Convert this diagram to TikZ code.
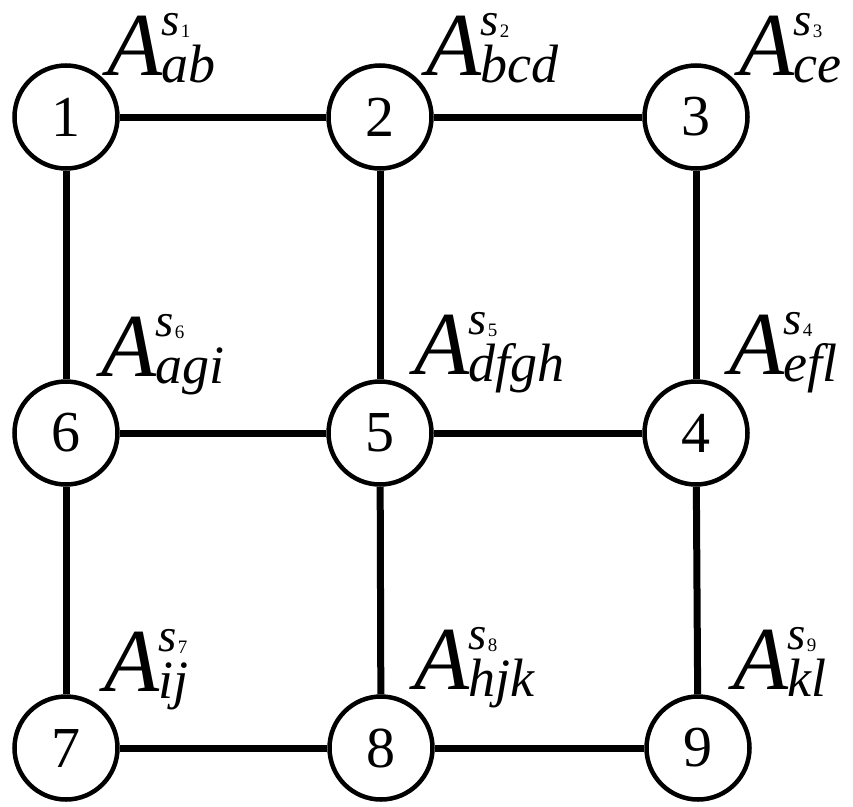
\documentclass[tikz,border=0pt]{standalone}
\usepackage{fontspec}
\setmainfont{LiberationSerif}[
  Extension=.ttf,
  UprightFont=*-Regular,
  ItalicFont=*-Italic,
  BoldFont=*-Bold,
  BoldItalicFont=*-BoldItalic]

% A^{s_n}_{letters}, set by hand in Times-like type
\newcommand\slabel[2]{%
  {\fontsize{90}{90}\selectfont\itshape A}%
  \rlap{\raisebox{40pt}{\fontsize{47}{47}\selectfont\itshape s\kern0.5pt\raisebox{-2pt}{\upshape\fontsize{19}{19}\selectfont #1}}}%
  \raisebox{-7pt}{\fontsize{54}{54}\selectfont\itshape #2}}

\tikzset{
  vertex/.style={circle, draw, fill=white, line width=4.5pt, minimum size=103pt,
    inner sep=0pt, font=\fontsize{58}{58}\selectfont},
  edge/.style={line width=7pt},
  tag/.style={anchor=base west, inner sep=0pt, outer sep=0pt}
}

\begin{document}
\begin{tikzpicture}[x=1pt, y=-1pt]
  \useasboundingbox (0,0) rectangle (853,806);

  % grid vertices
  \node[vertex] (n1) at (66,117) {1};
  \node[vertex] (n2) at (380,117) {2};
  \node[vertex] (n3) at (696,117) {3};
  \node[vertex] (n6) at (66,433) {6};
  \node[vertex] (n5) at (380,433) {5};
  \node[vertex] (n4) at (696,433) {4};
  \node[vertex] (n7) at (66,748) {7};
  \node[vertex] (n8) at (381,748) {8};
  \node[vertex] (n9) at (698,748) {9};

  % grid connections
  \draw[edge] (n1) -- (n2);
  \draw[edge] (n2) -- (n3);
  \draw[edge] (n6) -- (n5);
  \draw[edge] (n5) -- (n4);
  \draw[edge] (n7) -- (n8);
  \draw[edge] (n8) -- (n9);
  \draw[edge] (n1) -- (n6);
  \draw[edge] (n6) -- (n7);
  \draw[edge] (n2) -- (n5);
  \draw[edge] (n5) -- (n8);
  \draw[edge] (n3) -- (n4);
  \draw[edge] (n4) -- (n9);

  % vertex labels
  \node[tag] (l1) at (107,75)  {\slabel{1}{ab}};
  \node[tag] (l2) at (426,75)  {\slabel{2}{bcd}};
  \node[tag] (l3) at (739,75)  {\slabel{3}{ce}};
  \node[tag] (l6) at (101,376) {\slabel{6}{agi}};
  \node[tag] (l5) at (414,374) {\slabel{5}{dfgh}};
  \node[tag] (l4) at (729,374) {\slabel{4}{efl}};
  \node[tag] (l7) at (104,691) {\slabel{7}{ij}};
  \node[tag] (l8) at (414,689) {\slabel{8}{hjk}};
  \node[tag] (l9) at (733,689) {\slabel{9}{kl}};
\end{tikzpicture}
\end{document}
